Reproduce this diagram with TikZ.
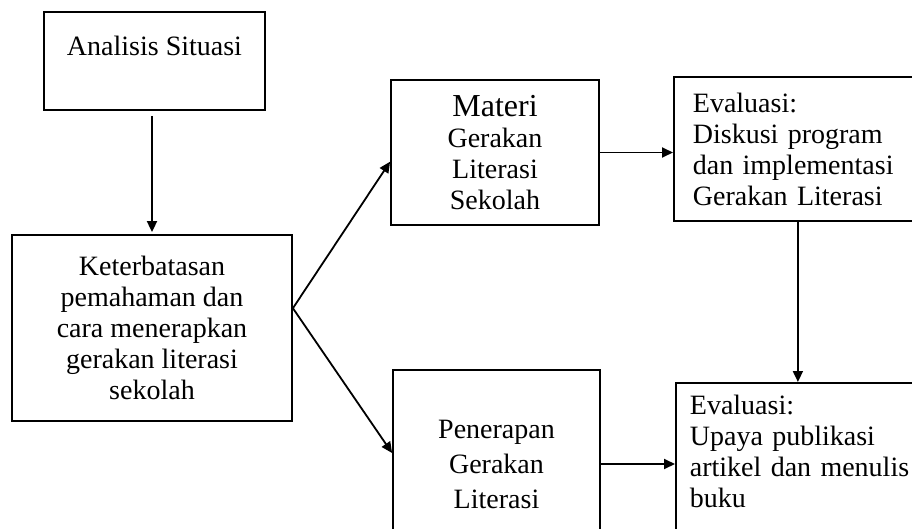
\documentclass[tikz,border=0pt]{standalone}
\usepackage{fontspec}
\setmainfont{Liberation Serif}
\usetikzlibrary{positioning,shapes,arrows.meta}

\tikzset{kotak/.style={draw, rectangle, line width=1.8pt, align=center,
             font=\fontsize{28}{31}\selectfont},
         evalbox/.style={kotak, align=left, text width=225pt, inner xsep=19pt},
         panah/.style={-{Triangle[length=11pt,width=10pt]}, line width=1.8pt}}

\begin{document}
\begin{tikzpicture}[x=1pt, y=-1pt]
\useasboundingbox (0,0) rectangle (912,529);
\clip (0,0) rectangle (912,529);
% kotak-kotak
\node[kotak, minimum width=221pt, minimum height=98pt] (situasi) at (154.5,61)
    {Analisis Situasi\\ ~};
\node[kotak, minimum width=280pt, minimum height=186pt] (masalah) at (152,328)
    {Keterbatasan\\ pemahaman dan\\ cara menerapkan\\ gerakan literasi\\ sekolah};
\node[kotak, minimum width=208pt, minimum height=145pt] (materi) at (495,152.5)
    {{\fontsize{32}{31}\selectfont Materi}\\ Gerakan\\ Literasi\\ Sekolah};
\node[kotak, minimum width=207pt, minimum height=188pt,
      font=\fontsize{28}{35}\selectfont] (terap) at (496.5,464)
    {Penerapan\\ Gerakan\\ Literasi};
\node[evalbox, anchor=west, text width=210pt, minimum height=144pt] (eval1) at (673,149)
    {Evaluasi:\\ Diskusi program\\ dan implementasi\\ Gerakan Literasi};
\node[evalbox, anchor=north west, inner xsep=14pt, inner ysep=12pt] (eval2) at (675,382)
    {Evaluasi:\\ Upaya publikasi\\ artikel dan menulis\\ buku\\ ~};
% panah
\draw[panah] ([yshift=-5pt]situasi.south -| masalah.north) -- ([yshift=2pt]masalah.north);
\draw[panah] (masalah.8) -- (materi.185);
\draw[panah] (masalah.8) -- (terap.174);
\draw[panah] (materi.east) -- (materi.east -| eval1.west);
\draw[panah] (terap.east) -- (terap.east -| eval2.west);
\draw[panah] (eval1.south) -- (eval1.south |- eval2.north);
\end{tikzpicture}
\end{document}
